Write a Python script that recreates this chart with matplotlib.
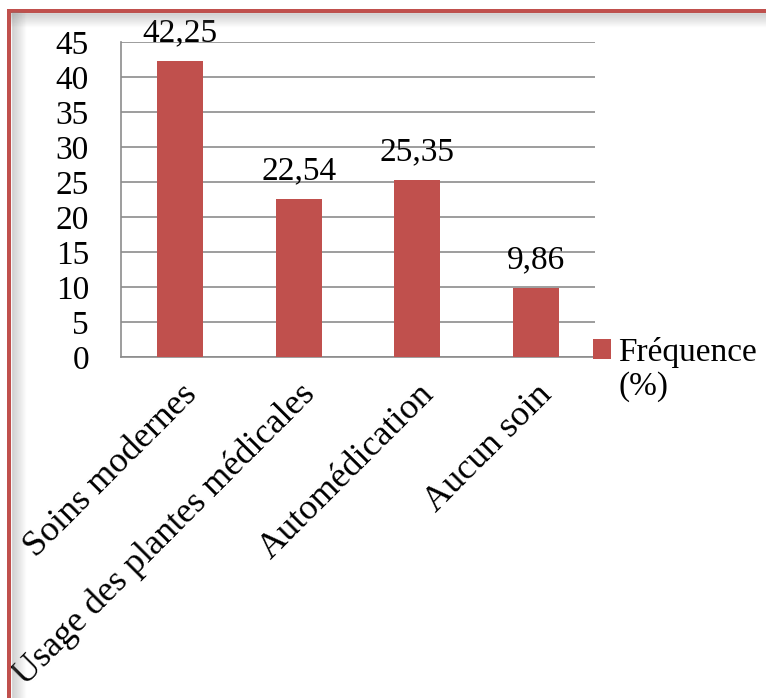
import matplotlib.pyplot as plt
from matplotlib.lines import Line2D
from matplotlib.patches import Rectangle

# the categories and the frequencies (%)
categories = ["Soins modernes", "Usage des plantes médicales", "Automédication", "Aucun soin"]
values = [42.25, 22.54, 25.35, 9.86]
labels = ["42,25", "22,54", "25,35", "9,86"]
yticks = [0, 5, 10, 15, 20, 25, 30, 35, 40, 45]

red = "#c0504d"
fs = 24
plt.rcParams["font.family"] = ["Liberation Serif", "DejaVu Serif"]

fig = plt.figure(figsize=(7.66, 6.98), dpi=100)
W, H = 766, 698

# frame: red line on the top and left with a soft grey shadow inside
for i in range(14):
    a = 0.28 * (1 - i / 14)
    fig.add_artist(Line2D([11 / W, 1], [1 - (13 + i) / H] * 2, transform=fig.transFigure,
                          color="gray", alpha=a, lw=1))
    fig.add_artist(Line2D([(12 + i) / W] * 2, [0, 1 - 12 / H], transform=fig.transFigure,
                          color="gray", alpha=a, lw=1))
fig.add_artist(Rectangle((7 / W, 0), 4 / W, 1 - 9 / H, transform=fig.transFigure,
                         color=red, lw=0))
fig.add_artist(Rectangle((7 / W, 1 - 13 / H), 1, 4 / H, transform=fig.transFigure,
                         color=red, lw=0))

ax = fig.add_axes([121 / W, 1 - 357 / H, (595 - 121) / W, (357 - 42) / H])
x = range(len(categories))
bars = ax.bar(x, values, width=0.39, color=red, label="Fréquence", zorder=3)

for xi, v, lab in zip(x, values, labels):
    ax.annotate(lab, (xi, v), xytext=(0, 9), textcoords="offset points",
                ha="center", va="bottom", fontsize=fs)

ax.set_ylim(0, 45)
ax.set_xlim(-0.5, 3.5)
ax.set_yticks(yticks)
ax.tick_params(axis="y", length=0, labelsize=fs, pad=23)
ax.yaxis.grid(True, color="#8c8c8c", lw=1.2, zorder=0)
ax.set_xticks(list(x))
ax.set_xticklabels(categories, rotation=45, ha="right", va="top",
                   rotation_mode="anchor", fontsize=26)
ax.tick_params(axis="x", length=0, pad=15)

for s in ["top", "right"]:
    ax.spines[s].set_visible(False)
ax.spines["left"].set_color("#8c8c8c")
ax.spines["bottom"].set_color("#8c8c8c")
ax.spines["left"].set_linewidth(1.2)
ax.spines["bottom"].set_linewidth(1.2)

ax.legend(loc="center left", bbox_to_anchor=((593 - 121) / 474, (357 - 352) / 315),
          frameon=False, fontsize=fs, handlelength=0.55, handleheight=0.55,
          handletextpad=0.2, borderpad=0, borderaxespad=0)
# second line of the legend label, under "Fréquence"
fig.text(619 / W, 1 - 387 / H, "(%)", ha="left", va="center", fontsize=fs)

fig.savefig("out.png", dpi=100)
